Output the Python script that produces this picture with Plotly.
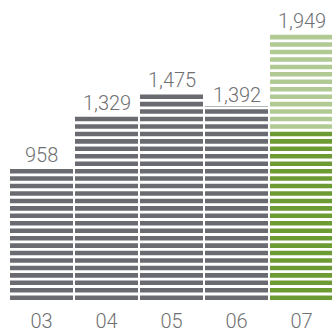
import plotly.graph_objects as go

# ---- data ----
years = ["03", "04", "05", "06", "07"]
totals = [958, 1329, 1475, 1392, 1949]
base_07 = 1230          # dark-green (lower) portion of the 07 bar
unit = 53.5             # value represented by one stripe

grey = "#696b71"
dgreen = "#6c9a33"
lgreen = "#b1c992"
txt = "#6f7072"

# stripes: bars are quantised to whole stripes
n_tot = [round(v / unit) for v in totals]
n_base = [round(v / unit) for v in totals[:-1]] + [round(base_07 / unit)]
base_h = [n * unit for n in n_base]
top_h = [(t - b) * unit for t, b in zip(n_tot, n_base)]

fig = go.Figure()
fig.add_bar(x=years, y=base_h, marker=dict(color=[grey] * 4 + [dgreen], line_width=0),
            width=0.96, hoverinfo="skip")
fig.add_bar(x=years, y=top_h, marker=dict(color=lgreen, line_width=0),
            width=0.96, hoverinfo="skip")

ymax = 305 * unit / 7.57
stripe_frac = 0.61
shapes = []
k = 0
while k * unit < ymax:
    shapes.append(dict(type="rect", xref="paper", yref="y", x0=0, x1=1,
                       y0=k * unit + stripe_frac * unit, y1=(k + 1) * unit,
                       fillcolor="white", line_width=0, layer="above"))
    k += 1

annotations = []
for i, (v, n) in enumerate(zip(totals, n_tot)):
    annotations.append(dict(x=i, y=(n - 1 + stripe_frac) * unit, text=f"{v:,}",
                            showarrow=False, yanchor="bottom", yshift=0,
                            font=dict(size=20, color=txt, family="Roboto", weight=300)))

fig.update_layout(
    width=332, height=333, barmode="stack", showlegend=False,
    margin=dict(l=9, r=0, t=0, b=28),
    paper_bgcolor="white", plot_bgcolor="white",
    shapes=shapes, annotations=annotations,
    xaxis=dict(type="category", range=[-0.5, -0.5 + 323 / 65], showgrid=False,
               zeroline=False, showline=False, ticks="", ticklabelstandoff=7,
               tickfont=dict(size=20, color=txt, family="Roboto", weight=300)),
    yaxis=dict(visible=False, range=[0, ymax]),
)
fig.write_html("out.html")
